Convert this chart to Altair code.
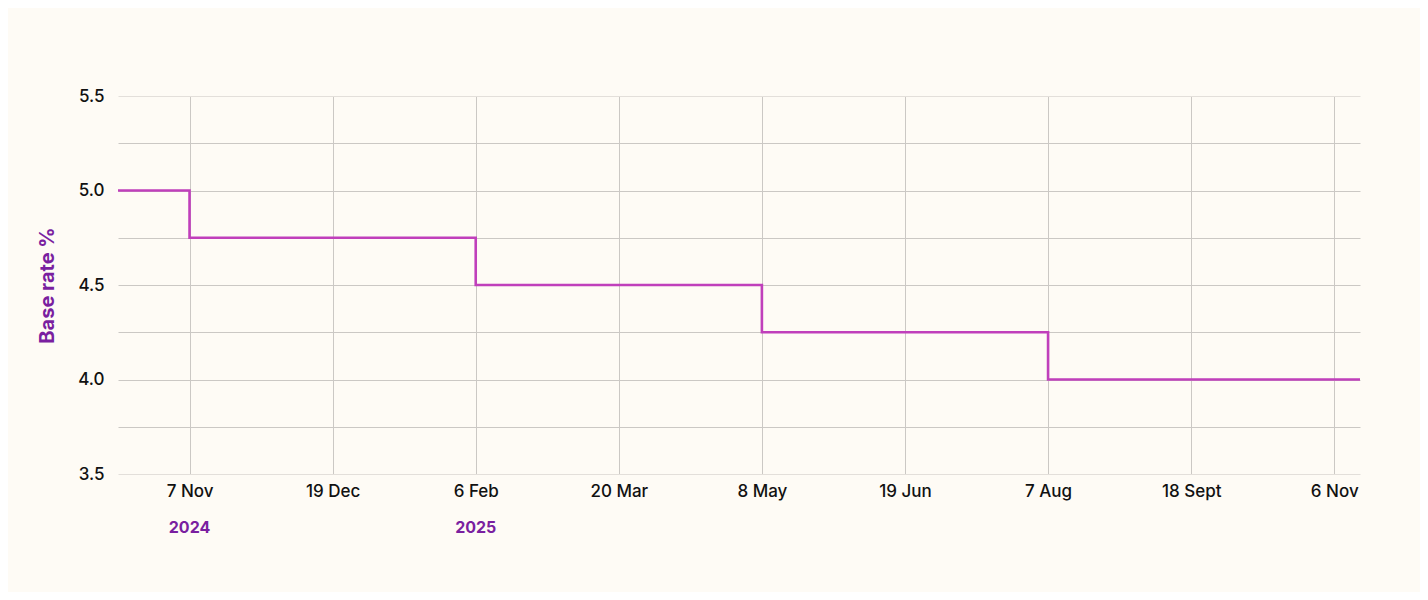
import altair as alt
import pandas as pd

# MPC meeting tick labels (evenly spaced on the axis)
tick_labels = ["7 Nov", "19 Dec", "6 Feb", "20 Mar", "8 May", "19 Jun", "7 Aug", "18 Sept", "6 Nov"]
year_labels = ["2024", "2025"]
year_pos = [0, 2]

# Step series: position in meeting index, base rate %
step_x = [-0.5, 0, 2, 4, 6, 8.18]
step_rate = [5.0, 4.75, 4.5, 4.25, 4.0, 4.0]

df = pd.DataFrame({"x": step_x, "rate": step_rate})
years = pd.DataFrame({"x": year_pos, "label": year_labels})

W, H = 1242, 378
FONT = "Inter"
PURPLE = "#7a1fa0"

label_js = "[" + ",".join(f"'{t}'" for t in tick_labels) + "]"

xscale = alt.Scale(domain=[-0.5, 8.18], nice=False, zero=False)
yscale = alt.Scale(domain=[3.5, 5.5], nice=False, zero=False)

line = alt.Chart(df).mark_line(
    interpolate="step-after", color="#c03fbb", strokeWidth=2.6
).encode(
    x=alt.X("x:Q", scale=xscale, title=None,
            axis=alt.Axis(values=list(range(9)),
                          labelExpr=f"{label_js}[datum.value]",
                          grid=True, ticks=False, domain=False,
                          labelFont=FONT, labelFontSize=17, labelFontWeight=500,
                          labelColor="#111111",
                          labelPadding=9, labelFlush=False,
                          gridColor="#cbc8c4", gridWidth=1)),
    y=alt.Y("rate:Q", scale=yscale, title="Base rate %",
            axis=alt.Axis(values=[3.5, 3.75, 4.0, 4.25, 4.5, 4.75, 5.0, 5.25, 5.5],
                          labelExpr="(datum.value * 2) % 1 == 0 ? format(datum.value, '.1f') : ''",
                          grid=True, ticks=False, domain=False,
                          labelFont=FONT, labelFontSize=17, labelFontWeight=500,
                          labelColor="#111111",
                          labelPadding=14,
                          gridColor={"condition": {"test": "datum.value == 5.5 || datum.value == 3.5",
                                                   "value": "#e3dfda"},
                                     "value": "#cbc8c4"},
                          title="Base rate %", titleFont=FONT, titleFontSize=20,
                          titleFontWeight="bold", titleColor=PURPLE, titlePadding=20)),
)

year_text = alt.Chart(years).mark_text(
    font=FONT, fontSize=16, fontWeight="bold", color=PURPLE, baseline="middle"
).encode(
    x=alt.X("x:Q", scale=xscale),
    y=alt.value(H + 54),
    text="label:N",
)

chart = alt.layer(line, year_text).properties(
    width=W, height=H,
    autosize=alt.AutoSizeParams(type="none"),
    padding={"left": 110, "top": 88, "right": 60, "bottom": 118},
    background="#fefbf5",
).configure_view(stroke=None)

chart.save("out.html", embed_options={"renderer": "svg", "actions": False})
